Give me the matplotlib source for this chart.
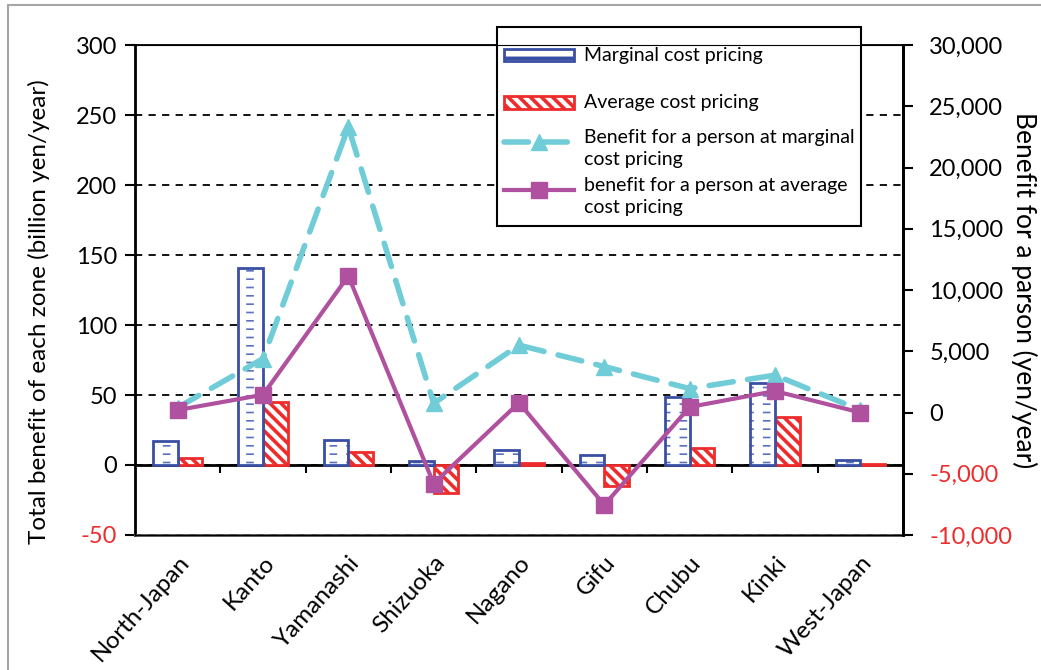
import numpy as np
import matplotlib as mpl
import matplotlib.pyplot as plt
from matplotlib.ticker import FuncFormatter
from matplotlib.patches import Rectangle
from matplotlib.legend_handler import HandlerPatch

plt.rcParams['font.family'] = ['Lato', 'DejaVu Sans']

zones = ['North-Japan', 'Kanto', 'Yamanashi', 'Shizuoka', 'Nagano',
         'Gifu', 'Chubu', 'Kinki', 'West-Japan']
# total benefit of each zone (billion yen/year)
marginal_total = [17.5, 140.5, 18, 3, 10.5, 7, 48.5, 58.5, 3.5]
average_total = [5, 45, 9, -20, 1.5, -15, 12, 34, 0.7]
# benefit for a person (yen/year)
marginal_person = [400, 4400, 23300, 750, 5500, 3750, 1950, 3050, 200]
average_person = [200, 1450, 11150, -5800, 800, -7550, 450, 1750, 0]

blue = '#3A4FA3'
red = '#EE2C2C'
cyan = '#70CDD8'
purple = '#B0519F'

fig = plt.figure(figsize=(10.41, 6.70), dpi=100)
ax = fig.add_axes([0.1297, 0.2015, 0.7377, 0.7313])

x = np.arange(len(zones))
w = 0.29

# marginal bars: horizontal hatch broken into short dashes by a white overlay
mpl.rcParams['hatch.linewidth'] = 1.2
ax.bar(x - w / 2, marginal_total, w, facecolor='white', edgecolor='#5C70C0',
       linewidth=0, hatch='--', zorder=3)
b1 = Rectangle((0, 0), 1, 1, facecolor='white', edgecolor=blue, linewidth=2,
               hatch='-', label='Marginal cost pricing')
mpl.rcParams['hatch.linewidth'] = 6.5
ax.bar(x - w / 2, marginal_total, w, facecolor='none', edgecolor='white',
       linewidth=0, hatch='|', zorder=3.1)
ax.bar(x - w / 2, marginal_total, w, facecolor='none', edgecolor=blue,
       linewidth=2, zorder=3.2)

mpl.rcParams['hatch.linewidth'] = 2.6
ax.bar(x + w / 2, average_total, w, facecolor='white', edgecolor=red,
       linewidth=2, hatch='\\\\\\', zorder=3)
b2 = Rectangle((0, 0), 1, 1, facecolor='white', edgecolor=red, linewidth=2,
               hatch='\\\\\\', label='Average cost pricing')

ax.set_xlim(-0.5, len(zones) - 0.5)
ax.set_ylim(-50, 300)
ax.set_yticks(np.arange(-50, 301, 50))
ax.yaxis.grid(True, color='black', linestyle=(0, (4, 3.5)), linewidth=1.3)
ax.set_axisbelow(True)
ax.yaxis.set_major_formatter(FuncFormatter(lambda v, p: f'{v:.0f}'))
ax.tick_params(axis='y', labelsize=17, length=7, width=1.5, direction='out',
               pad=6)
ax.set_xticks(x)
ax.set_xticklabels(zones, rotation=48, ha='right', rotation_mode='anchor',
                   fontsize=17.5)
ax.tick_params(axis='x', length=0, pad=12)
ax.set_ylabel('Total benefit of each zone (billion yen/year)', fontsize=17.5)
ax.yaxis.set_label_coords(-0.111, 0.455)
for s in ['left', 'right']:
    ax.spines[s].set_linewidth(2)
ax.spines['top'].set_linewidth(1.3)
ax.spines['bottom'].set_linewidth(2)
ax.spines['bottom'].set_color('#555555')

# zero line with category separators
ymin, ymax = ax.get_ylim()
zero_ax = ax.secondary_xaxis((0 - ymin) / (ymax - ymin))
zero_ax.set_xticks(x[:-1] + 0.5)
zero_ax.set_xticklabels([])
zero_ax.tick_params(length=6, width=1.5, direction='out')
zero_ax.spines['bottom'].set_linewidth(2)

ax2 = ax.twinx()
l1, = ax2.plot(x, marginal_person, color=cyan, linewidth=4,
               linestyle=(0, (4.4, 2.6)), dash_capstyle='round',
               marker='^', markersize=11,
               label='Benefit for a person at marginal\ncost pricing')
l2, = ax2.plot(x, average_person, color=purple, linewidth=3,
               marker='s', markersize=11,
               label='benefit for a person at average\ncost pricing')
ax2.set_ylim(-10000, 30000)
ax2.set_yticks(np.arange(-10000, 30001, 5000))
ax2.yaxis.set_major_formatter(FuncFormatter(lambda v, p: f'{v:,.0f}'))
ax2.tick_params(axis='y', labelsize=17, length=7, width=1.5, direction='out',
                pad=12)
ax2.set_ylabel('Benefit for a parson (yen/year)', fontsize=19,
               rotation=-90, labelpad=18)
ax2.spines['right'].set_linewidth(2)

for t in ax.get_yticklabels():
    if float(t.get_text()) < 0:
        t.set_color(red)
for t in ax2.get_yticklabels():
    if t.get_text().startswith('-'):
        t.set_color(red)


def flat_box(legend, orig_handle, xdescent, ydescent, width, height, fontsize):
    h = 0.65 * fontsize
    return Rectangle((-xdescent, -ydescent + (height - h) / 2), width, h)


leg = ax.legend(handles=[b1, b2, l1, l2], loc='upper left',
                bbox_to_anchor=(497 / 1041, 1 - 27 / 670),
                bbox_transform=fig.transFigure, fontsize=14,
                frameon=True, fancybox=False, edgecolor='black',
                framealpha=1, handlelength=3.6, handleheight=3.0,
                labelspacing=0.25, borderpad=0.35, borderaxespad=0,
                handletextpad=0.5,
                handler_map={Rectangle: HandlerPatch(patch_func=flat_box)})
for t in leg.get_texts():
    t.set_linespacing(1.35)
leg.get_frame().set_linewidth(1.5)
leg.set_zorder(10)

# outer border of the chart area
fig.patches.append(Rectangle((8 / 1041, -0.01), 1.0, 1 - 5 / 670 + 0.01,
                             transform=fig.transFigure, fill=False,
                             edgecolor='#A6A6A6', linewidth=1.5))

fig.savefig('out.png', dpi=100)
